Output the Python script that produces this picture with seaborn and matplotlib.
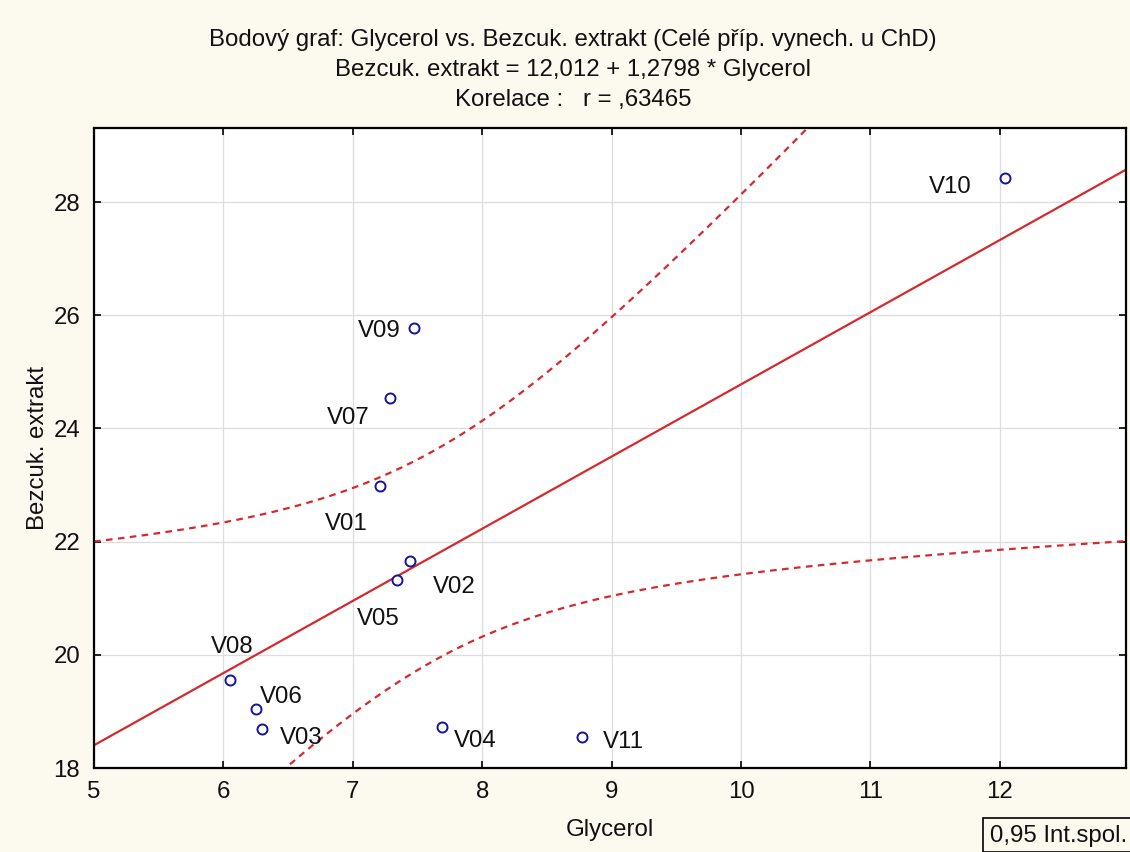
import numpy as np
import pandas as pd
import matplotlib
matplotlib.use("Agg")
import matplotlib.pyplot as plt
from matplotlib.patches import Rectangle
import seaborn as sns

# ---- data ----
labels = ["V01", "V02", "V03", "V04", "V05", "V06", "V07", "V08", "V09", "V10", "V11"]
glycerol = [7.21, 7.44, 6.30, 7.69, 7.34, 6.25, 7.29, 6.05, 7.47, 12.04, 8.77]
extrakt = [22.98, 21.65, 18.69, 18.72, 21.33, 19.04, 24.53, 19.55, 25.77, 28.42, 18.54]
x_ticks = [5, 6, 7, 8, 9, 10, 11, 12]
y_ticks = [18, 20, 22, 24, 26, 28]
title_lines = [
    "Bodový graf: Glycerol vs. Bezcuk. extrakt (Celé příp. vynech. u ChD)",
    "Bezcuk. extrakt = 12,012 + 1,2798 * Glycerol",
    "Korelace :   r = ,63465",
]
x_label = "Glycerol"
y_label = "Bezcuk. extrakt"
legend_text = "0,95 Int.spol."
conf_level_t = 2.262  # t(0.975, df=9)

# label offsets in pixels (style only)
label_offsets = {
    "V01": (-34, -38), "V02": (45, -26), "V03": (39, -9), "V04": (33, -14),
    "V05": (-19, -39), "V06": (26, 12), "V07": (-42, -20), "V08": (2, 33),
    "V09": (-34, -3), "V10": (-55, -9), "V11": (42, -5),
}

# ---- style ----
sns.set_theme(style="whitegrid")
plt.rcParams["font.family"] = ["Liberation Sans", "DejaVu Sans"]
BG = "#FCF9EE"
RED = "#D42A2E"
BLUE = "#1414A0"
FS = 17.3

W, H = 1130, 852
fig = plt.figure(figsize=(W / 100, H / 100), dpi=100, facecolor=BG)
ax = fig.add_axes([94 / W, 1 - 768 / H, (1126 - 94) / W, (768 - 128) / H])
ax.set_facecolor("white")

df = pd.DataFrame({"label": labels, "Glycerol": glycerol, "Extrakt": extrakt})
x = np.asarray(glycerol)
y = np.asarray(extrakt)
n = len(x)
slope, intercept = np.polyfit(x, y, 1)
xm = x.mean()
sxx = ((x - xm) ** 2).sum()
resid = y - (intercept + slope * x)
s = np.sqrt((resid ** 2).sum() / (n - 2))

xlim = (5, 12.975)
ylim = (18, 29.31)
xs = np.linspace(xlim[0], xlim[1], 300)
yhat = intercept + slope * xs
se = s * np.sqrt(1 / n + (xs - xm) ** 2 / sxx)
band = pd.DataFrame({"x": xs, "fit": yhat, "lo": yhat - conf_level_t * se, "hi": yhat + conf_level_t * se})

sns.lineplot(data=band, x="x", y="fit", ax=ax, color=RED, linewidth=1.6, estimator=None, sort=False)
for col in ["lo", "hi"]:
    sns.lineplot(data=band, x="x", y=col, ax=ax, color=RED, linewidth=1.6,
                 linestyle=(0, (3, 2.4)), estimator=None, sort=False)

sns.scatterplot(data=df, x="Glycerol", y="Extrakt", ax=ax, s=52, marker="o",
                facecolor="white", edgecolor=BLUE, linewidth=1.4, zorder=5)

for lab, gx, ey in zip(labels, glycerol, extrakt):
    dx, dy = label_offsets[lab]
    ax.annotate(lab, (gx, ey), xytext=(dx, dy), textcoords="offset pixels",
                ha="center", va="center", fontsize=FS, color="#111111", zorder=6)

ax.set_xlim(*xlim)
ax.set_ylim(*ylim)
ax.set_xticks(x_ticks)
ax.set_yticks(y_ticks)
ax.set_xticklabels([str(t) for t in x_ticks])
ax.set_yticklabels([str(t) for t in y_ticks])
ax.grid(True, color="#DDDDDD", linewidth=0.9)
ax.tick_params(axis="both", which="both", direction="in", length=5, width=1.2,
               labelsize=FS, colors="black", top=True, right=True, left=True, bottom=True,
               labelcolor="#111111")
ax.tick_params(axis="x", pad=9)
ax.tick_params(axis="y", pad=10)
for sp in ax.spines.values():
    sp.set_color("black")
    sp.set_linewidth(1.6)
    sp.set_visible(True)

ax.set_xlabel(x_label, fontsize=FS, color="#111111")
ax.set_ylabel(y_label, fontsize=FS, color="#111111")
ax.xaxis.set_label_coords(0.5, (768 - 830) / 640)
ax.xaxis.label.set_va("center")
ax.yaxis.set_label_coords((38 - 94) / 1032, 0.5)
ax.yaxis.label.set_va("center")

for i, line in enumerate(title_lines):
    fig.text(573 / W, 1 - (40 + 30 * i) / H, line, ha="center", va="center",
             fontsize=FS, color="#111111")

# legend box bottom-right
fig.patches.append(Rectangle((983 / W, 0), (W - 983) / W + 0.01, (H - 818) / H,
                             transform=fig.transFigure, fill=False, edgecolor="black",
                             linewidth=1.2, clip_on=False))
fig.text(990 / W, 1 - 836 / H, legend_text, ha="left", va="center", fontsize=FS, color="#111111")

fig.savefig("out.png", dpi=100, facecolor=BG)
